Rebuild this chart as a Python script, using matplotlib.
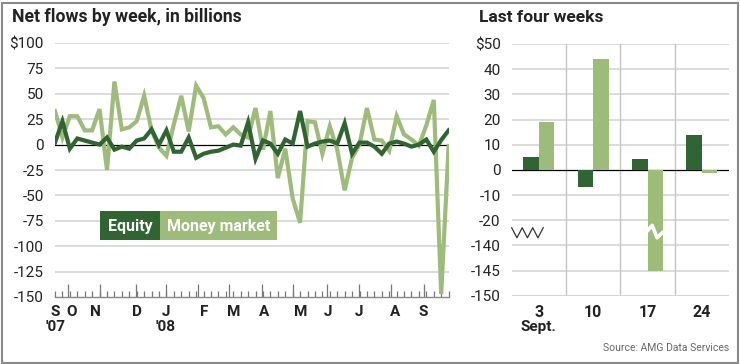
import matplotlib
matplotlib.use("Agg")
import matplotlib.pyplot as plt
from matplotlib import font_manager as fm
from matplotlib.patches import Rectangle
import numpy as np

# ---------------- data ----------------
week_index = list(range(54))  # weekly, Sept. 19 2007 ... Sept. 24 2008
equity = [2, 23, -4, 6, 4, 2, 0, 7, -5, -2, -4, 4, 6, 15, 0, 14, -7, -7, 7, -13,
          -9, -7, -6, -3, 0, -1, 22, -14, 4, 1, -9, 5, 1, 33, -2, 1, 3, 4, 1, 21,
          -9, 2, 2, -2, -9, 1, 3, 1, -2, 0, 5, -7, 4.5, 14]
money_market = [33, 7, 28, 28, 14, 14, 35, -25, 62, 15, 17, 23, 48, 14, -3, -11, 20, 48, 13, 58,
                46, 17, 18, 10, 17, 10, 7, 36, -5, 33, -33, -4, -53, -77, 23, 22, -9, 18, -5, -45,
                -13, 0, 36, 5, 4, -6, 28, 10, 5, -1, 19, 44, -147, -1.3]

left_yticks = [100, 75, 50, 25, 0, -25, -50, -75, -100, -125, -150]
left_ylabels = ["$100", "75", "50", "25", "0", "-25", "-50", "-75", "-100", "-125", "-150"]
month_labels = ["S", "O", "N", "D", "J", "F", "M", "A", "M", "J", "J", "A", "S"]
month_label_pos = [0, 2.3, 5.5, 11.0, 14.95, 20.1, 24.0, 28.2, 33.1, 36.8, 40.9, 45.8, 49.6]
year_labels = ["'07", "'08"]
year_label_pos = [0, 14.95]
month_start_pos = [1.7, 6.1, 10.9, 14.9, 19.3, 23.4, 27.9, 32.1, 36.6, 40.9, 45.3, 49.7]

last4_labels = ["3", "10", "17", "24"]
last4_equity = [5, -7, 4.5, 14]
last4_money = [19, 44, -145, -1.3]
right_ticks = [50, 40, 30, 20, 10, 0, -10, -20, -140, -145, -150]
right_labels = ["$50", "40", "30", "20", "10", "0", "-10", "-20", "-140", "-145", "-150"]

# ---------------- style ----------------
names = {f.name for f in fm.fontManager.ttflist}
FONT = "Liberation Sans Narrow" if "Liberation Sans Narrow" in names else "Roboto"
plt.rcParams["font.family"] = [FONT, "DejaVu Sans"]

DARK = "#2f6530"
LIGHT = "#9dbc79"
GRID = "#d4d4d4"
TXT = "#222222"

fig = plt.figure(figsize=(7.4, 3.64), dpi=100)
W, H = 740, 364


def fax(x0, y0, x1, y1):
    return fig.add_axes([x0 / W, 1 - y1 / H, (x1 - x0) / W, (y1 - y0) / H])


# ---------------- left chart ----------------
ax = fax(55, 43, 449, 297)
ax.set_xlim(0, 53.05)
ax.set_ylim(-150, 100)
for v in left_yticks[:-1]:
    if v != 0:
        ax.axhline(v, color=GRID, lw=1.2, zorder=1)
ax.axhline(0, color="black", lw=0.9, zorder=2)
ax.plot(week_index, money_market, color=LIGHT, lw=3.0, zorder=3, solid_joinstyle="miter")
ax.plot(week_index, equity, color=DARK, lw=3.0, zorder=4, solid_joinstyle="miter")

for s in ["left", "top", "right"]:
    ax.spines[s].set_visible(False)
ax.spines["bottom"].set_color("#888888")
ax.spines["bottom"].set_linewidth(1.0)
ax.set_yticks(left_yticks)
ax.set_yticklabels(left_ylabels, fontsize=11, color=TXT)
ax.tick_params(axis="y", length=0, pad=8)
ax.set_xticks(month_start_pos)
ax.set_xticks(week_index, minor=True)
ax.set_xticklabels([])
ax.tick_params(axis="x", which="major", direction="in", length=9.5, color="#777777", width=0.9)
ax.tick_params(axis="x", which="minor", direction="in", length=4.5, color="#777777", width=0.9)

for lab, p in zip(month_labels, month_label_pos):
    ax.text(p, -158, lab, ha="center", va="top", fontsize=11, fontweight="bold", color=TXT,
            clip_on=False)
for lab, p in zip(year_labels, year_label_pos):
    ax.text(p, -173, lab, ha="center", va="top", fontsize=11, fontweight="bold", color=TXT,
            clip_on=False)

# legend boxes
fig.patches.append(Rectangle((100 / W, 1 - 240 / H), 60 / W, 29 / H, transform=fig.transFigure,
                             facecolor=DARK, edgecolor="none"))
fig.patches.append(Rectangle((160 / W, 1 - 240 / H), 117 / W, 29 / H, transform=fig.transFigure,
                             facecolor=LIGHT, edgecolor="none"))
fig.text(130 / W, 1 - 226 / H, "Equity", ha="center", va="center", color="white",
         fontsize=11.5, fontweight="bold")
fig.text(218.5 / W, 1 - 226 / H, "Money market", ha="center", va="center", color="white",
         fontsize=11.5, fontweight="bold")

fig.text(12 / W, 1 - 17 / H, "Net flows by week, in billions", ha="left", va="center",
         fontsize=12.7, fontweight="bold", color=TXT)

# ---------------- right chart ----------------


def slot(v):
    # broken scale: linear in tens above -20, in fives from -140 down
    return v / 10 if v >= -20 else (v + 125) / 5


ax2 = fax(511.7, 44, 729, 295.7)
ax2.set_xlim(0, 4)
ax2.set_ylim(-5, 5)
rt = [slot(v) for v in right_ticks]
for s in rt:
    if s != 0:
        ax2.axhline(s, color=GRID, lw=1.2, zorder=1)
for xv in [1, 2, 3]:
    ax2.axvline(xv, color="#c4c4c4", lw=1.0, zorder=1)

centers = np.arange(len(last4_labels)) + 0.5
bw = 0.285
eq_s = [slot(v) for v in last4_equity]
mm_s = [slot(v) for v in last4_money]
ax2.axhline(0, color="black", lw=0.9, zorder=2)
ax2.bar(centers - bw / 2, eq_s, width=bw, color=DARK, zorder=3)
bars_mm = ax2.bar(centers + bw / 2, mm_s, width=bw, color=LIGHT, zorder=3)

# break mark inside the tall bar
for b, v in zip(bars_mm, last4_money):
    if v < -20:
        x0 = b.get_x()
        wdt = b.get_width()
        ax2.plot([x0 - 0.01, x0 + 0.3 * wdt, x0 + 0.62 * wdt, x0 + wdt + 0.01],
                 [-2.45, -2.2, -2.7, -2.45], color="white", lw=2.6, zorder=5,
                 solid_capstyle="butt")
# axis-break zigzag at left
zx = np.linspace(0.0, 0.58, 7)
zy = np.array([-2.3, -2.7, -2.3, -2.7, -2.3, -2.7, -2.3])
ax2.plot(zx, zy, color="#333333", lw=0.9, zorder=5, clip_on=False)

for s in ["left", "top", "right", "bottom"]:
    ax2.spines[s].set_visible(False)
ax2.axhline(-5, color=GRID, lw=1.2, zorder=1)
ax2.set_yticks(rt)
ax2.set_yticklabels(right_labels, fontsize=11, color=TXT)
ax2.tick_params(axis="y", length=0, pad=8)
ax2.set_xticks(centers)
ax2.set_xticklabels(last4_labels, fontsize=11.5, fontweight="bold", color=TXT)
ax2.tick_params(axis="x", length=0, pad=7)
ax2.text(centers[0], -6.25, "Sept.", ha="center", va="center", fontsize=11, fontweight="bold",
         color=TXT, clip_on=False)

fig.text(479 / W, 1 - 17 / H, "Last four weeks", ha="left", va="center",
         fontsize=12.5, fontweight="bold", color=TXT)
fig.text(729 / W, 1 - 348 / H, "Source: AMG Data Services", ha="right", va="center",
         fontsize=7.5, color="#666666")

# outer frame
fig.patches.append(Rectangle((1.5 / W, 1.5 / H), 736 / W, 360 / H, transform=fig.transFigure,
                             facecolor="none", edgecolor="#8a8a8a", lw=1.5))

fig.savefig("out.png", dpi=100)
